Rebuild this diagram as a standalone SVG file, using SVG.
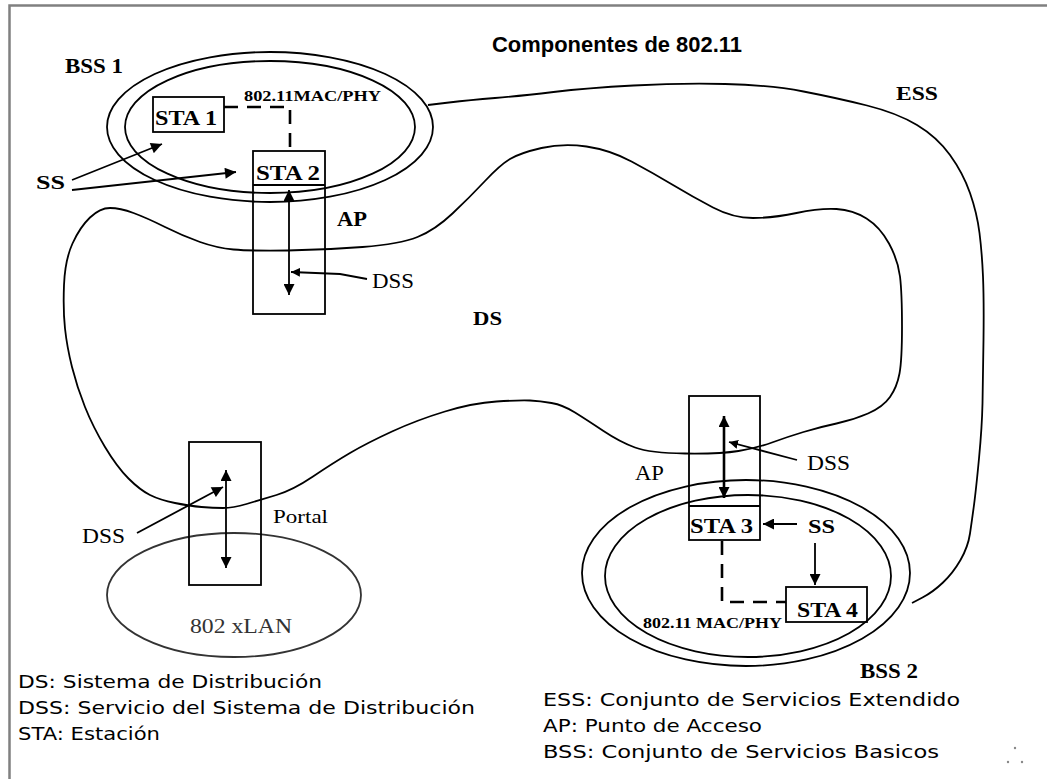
<svg xmlns="http://www.w3.org/2000/svg" width="1047" height="779" viewBox="0 0 1047 779">
<style>
.ln{fill:none;stroke:#000;stroke-width:1.8}
.bx{fill:none;stroke:#000;stroke-width:1.8}
.dash{fill:none;stroke:#000;stroke-width:2.6;stroke-dasharray:14,9}
.ar{fill:none;stroke:#000;stroke-width:1.8}
.sb{font-family:"Liberation Serif",serif;font-weight:bold;fill:#000}
.sr{font-family:"Liberation Serif",serif;fill:#000}
.lg{font-family:"DejaVu Sans",sans-serif;font-size:18px;fill:#000}
</style>
<defs>
<marker id="ah" viewBox="0 0 10 10" refX="10" refY="5" markerWidth="12" markerHeight="11" markerUnits="userSpaceOnUse" orient="auto-start-reverse"><path d="M0,0 L10,5 L0,10 z" fill="#000"/></marker>
<marker id="ahs" viewBox="0 0 10 10" refX="10" refY="5" markerWidth="9" markerHeight="9" markerUnits="userSpaceOnUse" orient="auto"><path d="M0,0 L10,5 L0,10 z" fill="#000"/></marker>
</defs>
<rect width="1047" height="779" fill="#fff"/>
<g id="frame"><path d="M9.5,779 V5.5 H1047" fill="none" stroke="#808080" stroke-width="2.5"/></g>
<text class="sb" x="492" y="52" font-family="Liberation Sans" style="font-family:'Liberation Sans',sans-serif" font-size="22" textLength="250" lengthAdjust="spacingAndGlyphs">Componentes de 802.11</text>

<g id="ds">
<path class="ln" d="M64,285 Q65,260 72.5,243.5 Q80,227 90,217.5 Q100,208 110,208 Q120,208 133.5,213 Q147,218 165,227 Q183,236 200,242 Q217,248 233.5,249.5 Q250,251 287.5,250.5 Q325,250 362.5,247 Q400,244 417.5,237 Q435,230 452.5,213.5 Q470,197 485,181 Q500,165 510,159 Q520,153 541.5,148 Q563,143 586.5,146.5 Q610,150 631.5,161.5 Q653,173 673,185 Q693,197 713,207.5 Q733,218 753,218 Q773,218 796.5,213 Q820,208 836.5,209 Q853,210 866.5,218.5 Q880,227 889,243.5 Q898,260 900,276.5 Q902,293 902,326.5 Q902,360 899.5,373.5 Q897,387 890,397 Q883,407 868,413.5 Q853,420 836.5,423.5 Q820,427 803.5,432 Q787,437 772,442.5 Q757,448 738.5,451 Q720,454 685,453.5 Q650,453 635,447.5 Q620,442 603.5,431 Q587,420 575,412.5 Q563,405 551.5,403 Q540,401 530,400.5 Q520,400 496.5,401.5 Q473,403 445,411.5 Q417,420 392,431.5 Q367,443 350,453 Q333,463 313,476.5 Q293,490 276.5,495 Q260,500 246.5,504 Q233,508 223,508 Q213,508 201.5,507 Q190,506 175,503 Q160,500 150,495 Q140,490 128.5,478.5 Q117,467 105,447 Q93,427 85,407 Q77,387 72,367 Q67,347 65,328.5 Q63,310 64,285 Z"/>
<text class="sb" x="473" y="325" font-size="18" textLength="29" lengthAdjust="spacingAndGlyphs">DS</text>
</g>

<g id="ess">
<path class="ln" d="M428,105 L449,102.5 Q470,100 495,98 Q520,96 553.5,92 Q587,88 633.5,85.5 Q680,83 725,84 Q770,85 803.5,91.5 Q837,98 867,105.5 Q897,113 917,125 Q937,137 950,155 Q963,173 970,193 Q977,213 979.5,233 Q982,253 983,276.5 Q984,300 983.5,340 Q983,380 982.5,403.5 Q982,427 979,458.5 Q976,490 974,505 Q972,520 970,533.5 Q968,547 960.5,560 Q953,573 943,582.5 Q933,592 922.5,597.5 L912,603"/>
<text class="sb" x="896" y="100" font-size="19" textLength="42" lengthAdjust="spacingAndGlyphs">ESS</text>
</g>

<g id="bss1">
<ellipse class="ln" cx="270" cy="127" rx="163" ry="75"/>
<ellipse class="ln" cx="270" cy="127" rx="145" ry="66"/>
<text class="sb" x="65" y="73" font-size="21" textLength="58" lengthAdjust="spacingAndGlyphs">BSS 1</text>
<text class="sb" x="244" y="101" font-size="14" textLength="137" lengthAdjust="spacingAndGlyphs">802.11MAC/PHY</text>
<text class="sb" x="36" y="189" font-size="19" textLength="29" lengthAdjust="spacingAndGlyphs">SS</text>
</g>

<g id="sta1">
<rect class="bx" x="153" y="97" width="71" height="35"/>
<text class="sb" x="155" y="125" font-size="21" textLength="62" lengthAdjust="spacingAndGlyphs">STA 1</text>
</g>

<g id="ap1">
<rect class="bx" x="253" y="151" width="72" height="163"/>
<line class="bx" x1="253" y1="185" x2="325" y2="185"/>
<text class="sb" x="256" y="180" font-size="21" textLength="64" lengthAdjust="spacingAndGlyphs">STA 2</text>
<text class="sb" x="337" y="226" font-size="21" textLength="30" lengthAdjust="spacingAndGlyphs">AP</text>
<text class="sr" x="372" y="288" font-size="21" textLength="42" lengthAdjust="spacingAndGlyphs">DSS</text>
</g>

<g id="portal">
<ellipse cx="234" cy="595" rx="127" ry="62" fill="none" stroke="#333" stroke-width="1.8"/>
<text class="sr" x="190" y="633" font-size="20" fill="#333" style="fill:#333" textLength="102" lengthAdjust="spacingAndGlyphs">802 xLAN</text>
<rect class="bx" x="189" y="442" width="72" height="143"/>
<text class="sr" x="273" y="523" font-size="19" textLength="55" lengthAdjust="spacingAndGlyphs">Portal</text>
<text class="sr" x="82" y="543" font-size="21" textLength="43" lengthAdjust="spacingAndGlyphs">DSS</text>
</g>

<g id="bss2">
<ellipse class="ln" cx="746" cy="573" rx="164" ry="93"/>
<ellipse class="ln" cx="748" cy="576" rx="143" ry="81"/>
<text class="sb" x="643" y="628" font-size="14" textLength="139" lengthAdjust="spacingAndGlyphs">802.11 MAC/PHY</text>
<text class="sb" x="808" y="533" font-size="19" textLength="27" lengthAdjust="spacingAndGlyphs">SS</text>
<text class="sb" x="860" y="678" font-size="21" textLength="58" lengthAdjust="spacingAndGlyphs">BSS 2</text>
</g>

<g id="ap2">
<rect class="bx" x="689" y="396" width="71" height="144"/>
<line class="bx" x1="689" y1="506" x2="760" y2="506"/>
<text class="sb" x="690" y="533" font-size="21" textLength="63" lengthAdjust="spacingAndGlyphs">STA 3</text>
<text class="sr" x="635" y="480" font-size="21" textLength="29" lengthAdjust="spacingAndGlyphs">AP</text>
<text class="sr" x="807" y="470" font-size="21" textLength="43" lengthAdjust="spacingAndGlyphs">DSS</text>
</g>

<g id="sta4">
<rect class="bx" x="786" y="587" width="81" height="35"/>
<text class="sb" x="797" y="617" font-size="21" textLength="61" lengthAdjust="spacingAndGlyphs">STA 4</text>
</g>

<g id="connectors">
<path class="dash" d="M224,107 H290 V151"/>
<path class="dash" d="M722,541 V602 H786"/>
<line class="ar" x1="72" y1="180" x2="162" y2="144" marker-end="url(#ah)"/>
<line class="ar" x1="72" y1="190" x2="236" y2="172" marker-end="url(#ah)"/>
<line class="ar" x1="289" y1="190" x2="289" y2="295" marker-start="url(#ah)" marker-end="url(#ah)"/>
<polyline class="ar" points="367,279 340,274 291,272" marker-end="url(#ahs)"/>
<line class="ar" x1="226" y1="470" x2="226" y2="568" marker-start="url(#ah)" marker-end="url(#ah)"/>
<line class="ar" x1="137" y1="533" x2="223" y2="487" marker-end="url(#ah)"/>
<line x1="724" y1="416" x2="724" y2="498" stroke="#000" stroke-width="2.6" marker-start="url(#ah)" marker-end="url(#ah)"/>
<line class="ar" x1="797" y1="460" x2="729" y2="442" marker-end="url(#ahs)"/>
<line class="ar" x1="797" y1="524" x2="763" y2="524" marker-end="url(#ah)"/>
<line class="ar" x1="815" y1="543" x2="815" y2="585" marker-end="url(#ah)"/>
</g>

<g id="legend">
<text class="lg" x="18" y="688" textLength="304" lengthAdjust="spacingAndGlyphs">DS: Sistema de Distribución</text>
<text class="lg" x="18" y="714" textLength="457" lengthAdjust="spacingAndGlyphs">DSS: Servicio del Sistema de Distribución</text>
<text class="lg" x="18" y="740" textLength="142" lengthAdjust="spacingAndGlyphs">STA: Estación</text>
<text class="lg" x="543" y="706" textLength="417" lengthAdjust="spacingAndGlyphs">ESS: Conjunto de Servicios Extendido</text>
<text class="lg" x="543" y="732" textLength="219" lengthAdjust="spacingAndGlyphs">AP: Punto de Acceso</text>
<text class="lg" x="543" y="758" textLength="396" lengthAdjust="spacingAndGlyphs">BSS: Conjunto de Servicios Basicos</text>
</g>
<g id="dots" fill="#888">
<circle cx="1015" cy="748" r="1.2"/><circle cx="1008" cy="762" r="1.2"/><circle cx="1022" cy="762" r="1.2"/>
</g>
</svg>
